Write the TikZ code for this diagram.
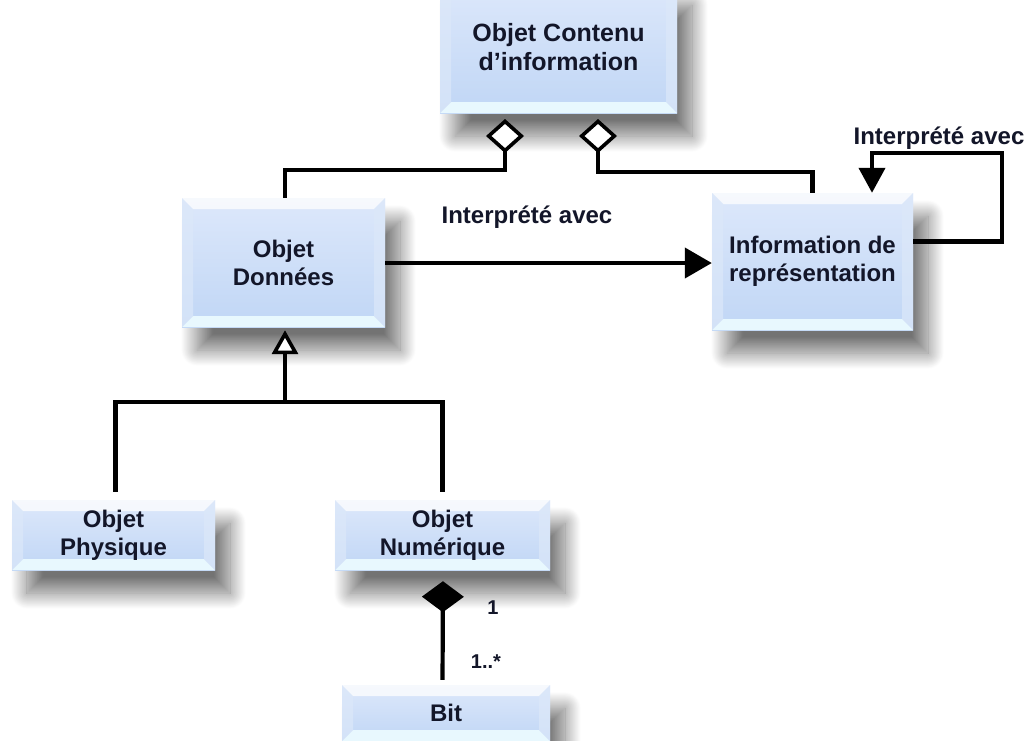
\documentclass[tikz,border=0pt]{standalone}
\usepackage{fontspec}
\setmainfont{Liberation Sans}
\usetikzlibrary{arrows.meta,shadows.blur}

\definecolor{boxtop}{HTML}{DDE8FB}
\definecolor{boxmid}{HTML}{D0DEF7}
\definecolor{boxbot}{HTML}{C0D6F5}
\definecolor{bevbot}{HTML}{E8F8FE}
\definecolor{bevside}{HTML}{DCE8F9}
\definecolor{txt}{HTML}{131629}

\tikzset{
  umlbox/.style={
    draw=none, top color=boxtop, middle color=boxmid, bottom color=boxbot,
    text=txt, align=center, inner sep=0pt,
    font=\bfseries\fontsize{24}{28}\selectfont,
    blur shadow={shadow xshift=15pt, shadow yshift=-23pt,
                 shadow blur radius=16pt, shadow blur steps=40,
                 shadow opacity=55},
    path picture={
      % top bevel
      \fill[white, opacity=.75]
        (path picture bounding box.north west) -- (path picture bounding box.north east)
        -- ([xshift=-11pt,yshift=-11pt]path picture bounding box.north east)
        -- ([xshift=11pt,yshift=-11pt]path picture bounding box.north west) -- cycle;
      % bottom bevel
      \fill[bevbot]
        (path picture bounding box.south west) -- (path picture bounding box.south east)
        -- ([xshift=-11pt,yshift=11pt]path picture bounding box.south east)
        -- ([xshift=11pt,yshift=11pt]path picture bounding box.south west) -- cycle;
      % side bevels
      \fill[bevside, opacity=.7]
        (path picture bounding box.north west)
        -- ([xshift=11pt,yshift=-11pt]path picture bounding box.north west)
        -- ([xshift=11pt,yshift=11pt]path picture bounding box.south west)
        -- (path picture bounding box.south west) -- cycle;
      \fill[bevside, opacity=.7]
        (path picture bounding box.north east)
        -- ([xshift=-11pt,yshift=-11pt]path picture bounding box.north east)
        -- ([xshift=-11pt,yshift=11pt]path picture bounding box.south east)
        -- (path picture bounding box.south east) -- cycle;
    }
  },
  conn/.style={draw=black, line width=4.2pt},
  agg/.style={conn, -{Diamond[open, fill=white, length=34pt, width=38pt, line width=3.6pt]}},
  comp/.style={conn, -{Diamond[length=31pt, width=42pt]}},
  inherit/.style={conn, -{Triangle[open, fill=white, length=24pt, width=26pt, line width=3.6pt]}},
  assoc/.style={conn, -{Triangle[length=27pt, width=30pt]}},
  looparrow/.style={conn, -{Triangle[length=25pt, width=26pt]}},
  lbl/.style={text=txt, font=\bfseries\fontsize{24}{28}\selectfont, inner sep=0pt},
  mult/.style={text=txt, font=\bfseries\fontsize{20}{24}\selectfont, inner sep=0pt}
}

\begin{document}
\begin{tikzpicture}[x=1pt, y=-1pt]
  \useasboundingbox (0,0) rectangle (1027,740);

  % classes
  \node[umlbox, font=\bfseries\fontsize{25}{29}\selectfont,
        minimum width=237pt, minimum height=131pt] (contenu) at (558.5,47.5)
       {Objet Contenu\\d’information};
  \node[umlbox, minimum width=203pt, minimum height=129pt] (donnees) at (283.5,262.5)
       {Objet\\Données};
  \node[umlbox, minimum width=201pt, minimum height=137pt] (info) at (812.5,261.5)
       {Information de\\représentation};
  \node[umlbox, minimum width=203pt, minimum height=70pt] (physique) at (113.5,535)
       {Objet\\Physique};
  \node[umlbox, minimum width=215pt, minimum height=70pt] (numerique) at (442.5,535)
       {Objet\\Numérique};
  \node[umlbox, minimum width=208pt, minimum height=56pt] (bit) at (446,713)
       {Bit};

  % aggregation into the content object
  \coordinate (aggL) at (505,119);
  \coordinate (aggR) at (598,119);
  \draw[agg] ([xshift=1.5pt]donnees.north) |- (505,170) -- (aggL);
  \draw[agg] (info.north) |- (598,172) -- (aggR);

  % association between data and representation
  \draw[assoc] ([yshift=-0.5pt]donnees.east) -- ([yshift=-1.5pt]info.west);
  \node[lbl] (lblmain) at (527,217) {Interprété avec};

  % recursive association on representation information
  \draw[looparrow] ([yshift=20pt]info.east) -| (1002,153) -| ([xshift=59.5pt]info.north);
  \node[lbl] (lblloop) at (939,138) {Interprété avec};

  % generalisation
  \coordinate (gen) at (285,402);
  \draw[conn, shorten <=8pt] ([xshift=2pt]physique.north) |- (gen);
  \draw[conn, shorten >=8pt] (gen) -| (numerique.north);
  \draw[inherit] (gen) -- ([xshift=1.5pt,yshift=-3pt]donnees.south);

  % composition of bits
  \draw[comp, shorten <=5pt, shorten >=11pt] ([xshift=-3.5pt]bit.north) -- ([xshift=0.5pt]numerique.south);
  \node[mult] (m1) at (493,608) {1};
  \node[mult] (m2) at (486,662) {1..*};
\end{tikzpicture}
\end{document}
